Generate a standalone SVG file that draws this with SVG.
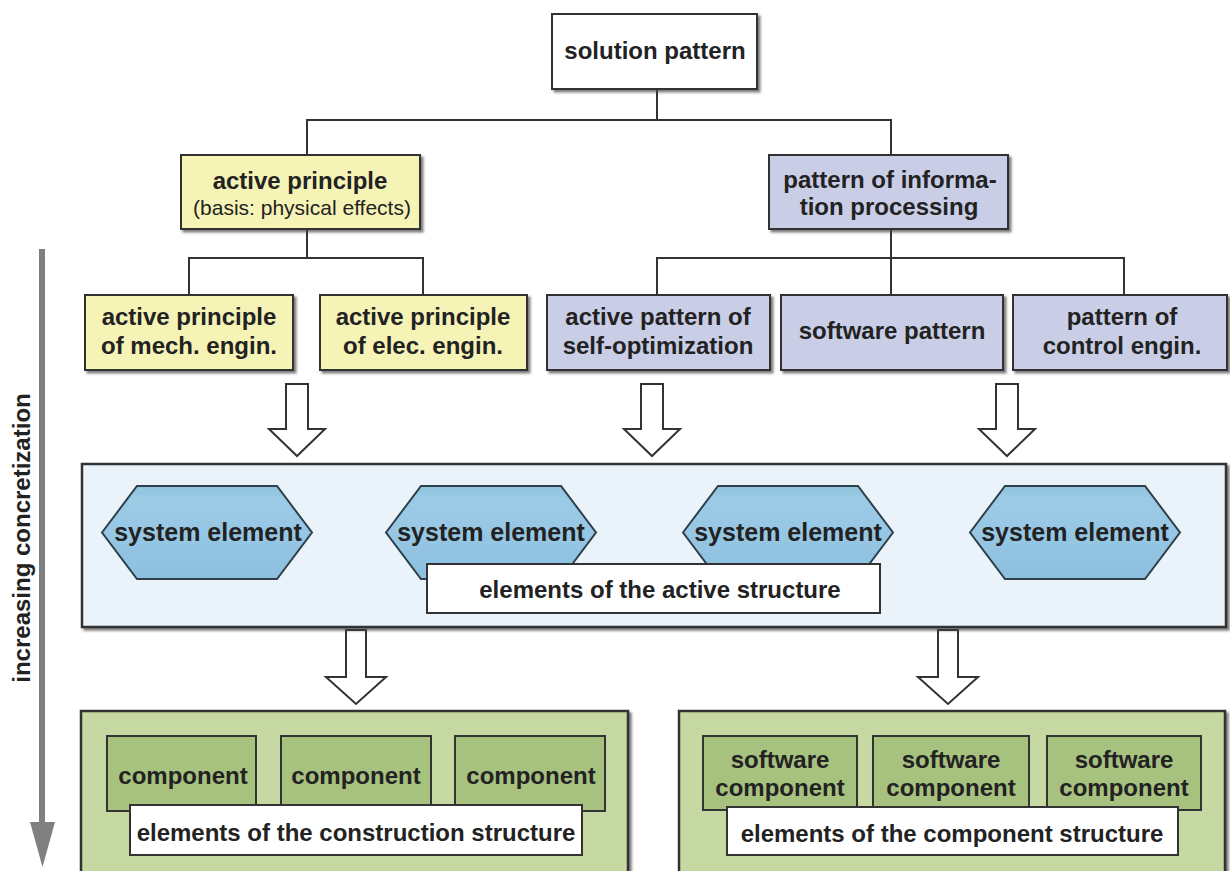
<svg xmlns="http://www.w3.org/2000/svg" width="1230" height="871" viewBox="0 0 1230 871">
<defs>
<filter id="sh" x="-5%" y="-5%" width="115%" height="120%">
<feDropShadow dx="2.5" dy="2.5" stdDeviation="1" flood-color="#444" flood-opacity="0.7"/>
</filter>
<linearGradient id="hexg" x1="0" y1="0" x2="0" y2="1">
<stop offset="0" stop-color="#8fc3dc"/>
<stop offset="0.15" stop-color="#9ccbe6"/>
<stop offset="1" stop-color="#8dc0e0"/>
</linearGradient>
</defs>
<style>
text{font-family:"Liberation Sans",Arial,Helvetica,sans-serif;font-weight:bold;font-size:24px;fill:#222;text-anchor:middle}
.sub{font-weight:normal;font-size:21px}
.box{stroke:#333;stroke-width:2;filter:url(#sh)}
.white{fill:#fff}
.yel{fill:#f6f3b6}
.blu{fill:#c9cee6}
.hex{fill:url(#hexg);stroke:#2e3f4a;stroke-width:2}
.big{fill:#eaf3fa;stroke:#333;stroke-width:2.5;filter:url(#sh)}
.grn{fill:#c6d9a3;stroke:#333;stroke-width:2.5;filter:url(#sh)}
.comp{fill:#a7c17f;stroke:#333;stroke-width:2}
.lbl{fill:#fff;stroke:#333;stroke-width:2}
.line{fill:none;stroke:#333;stroke-width:2}
.harrow{fill:#fff;stroke:#333;stroke-width:2;stroke-linejoin:miter}
</style>
<rect width="1230" height="871" fill="#fff"/>

<g id="connectors">
<polyline class="line" points="657,89 657,120"/>
<polyline class="line" points="307,155 307,120 891,120 891,155"/>
<polyline class="line" points="307,229 307,258"/>
<polyline class="line" points="189,295 189,258 423,258 423,295"/>
<polyline class="line" points="891,229 891,295"/>
<polyline class="line" points="657,295 657,258 1124,258 1124,295"/>
<path class="harrow" d="M286,384 H308 V429 H325 L297,456 L269,429 H286 Z"/>
<path class="harrow" d="M641,384 H663 V429 H680 L652,456 L624,429 H641 Z"/>
<path class="harrow" d="M996,384 H1018 V429 H1035 L1007,456 L979,429 H996 Z"/>
<path class="harrow" d="M346,630 H366 V677 H386 L356,704 L326,677 H346 Z"/>
<path class="harrow" d="M938,630 H958 V677 H978 L948,704 L918,677 H938 Z"/>
<line x1="42" y1="249" x2="42" y2="826" stroke="#808080" stroke-width="6"/>
<polygon points="30,822 55,822 42.5,867" fill="#808080"/>
</g>

<g id="axis-label">
<text x="30" y="538" transform="rotate(-90 30 538)">increasing concretization</text>
</g>

<g id="solution-pattern">
<rect class="box white" x="552" y="14" width="205" height="75"/>
<text x="655" y="59">solution pattern</text>
</g>

<g id="active-principle">
<rect class="box yel" x="181" y="155" width="239" height="74"/>
<text x="300" y="189">active principle</text>
<text class="sub" x="302" y="215">(basis: physical effects)</text>
</g>

<g id="pattern-info">
<rect class="box blu" x="769" y="155" width="239" height="74"/>
<text x="890" y="188">pattern of informa-</text>
<text x="889" y="215">tion processing</text>
</g>

<g id="ap-mech">
<rect class="box yel" x="85" y="295" width="208" height="75"/>
<text x="189" y="325">active principle</text>
<text x="189" y="354">of mech. engin.</text>
</g>

<g id="ap-elec">
<rect class="box yel" x="320" y="295" width="207" height="75"/>
<text x="423" y="325">active principle</text>
<text x="423" y="354">of elec. engin.</text>
</g>

<g id="self-opt">
<rect class="box blu" x="547" y="295" width="223" height="75"/>
<text x="658" y="325">active pattern of</text>
<text x="658" y="354">self-optimization</text>
</g>

<g id="software-pattern">
<rect class="box blu" x="781" y="295" width="222" height="75"/>
<text x="892" y="339">software pattern</text>
</g>

<g id="control-engin">
<rect class="box blu" x="1013" y="295" width="214" height="75"/>
<text x="1122" y="325">pattern of</text>
<text x="1122" y="354">control engin.</text>
</g>

<g id="active-structure">
<rect class="big" x="82" y="464" width="1144" height="163"/>
<g id="se1">
<polygon class="hex" points="102,532.5 137,486 277,486 312,532.5 277,579 137,579"/>
<text x="208" y="541" style="font-size:25px">system element</text>
</g>
<g id="se2">
<polygon class="hex" points="386,532.5 421,486 561,486 596,532.5 561,579 421,579"/>
<text x="491" y="541" style="font-size:25px">system element</text>
</g>
<g id="se3">
<polygon class="hex" points="683,532.5 718,486 858,486 893,532.5 858,579 718,579"/>
<text x="788" y="541" style="font-size:25px">system element</text>
</g>
<g id="se4">
<polygon class="hex" points="970,532.5 1005,486 1145,486 1180,532.5 1145,579 1005,579"/>
<text x="1075" y="541" style="font-size:25px">system element</text>
</g>
<g id="as-label">
<rect class="lbl" x="427" y="564" width="453" height="49"/>
<text x="660" y="598">elements of the active structure</text>
</g>
</g>

<g id="construction-structure">
<rect class="grn" x="81" y="711" width="547" height="175"/>
<g id="c1"><rect class="comp" x="107" y="736" width="149" height="75"/><text x="183" y="784">component</text></g>
<g id="c2"><rect class="comp" x="281" y="736" width="150" height="75"/><text x="356" y="784">component</text></g>
<g id="c3"><rect class="comp" x="455" y="736" width="150" height="75"/><text x="531" y="784">component</text></g>
<g id="cs-label">
<rect class="lbl" x="130" y="805" width="452" height="50"/>
<text x="356" y="841">elements of the construction structure</text>
</g>
</g>

<g id="component-structure">
<rect class="grn" x="679" y="711" width="546" height="175"/>
<g id="sc1"><rect class="comp" x="703" y="736" width="154" height="74"/><text x="780" y="768">software</text><text x="780" y="796">component</text></g>
<g id="sc2"><rect class="comp" x="873" y="736" width="156" height="74"/><text x="951" y="768">software</text><text x="951" y="796">component</text></g>
<g id="sc3"><rect class="comp" x="1047" y="736" width="154" height="74"/><text x="1124" y="768">software</text><text x="1124" y="796">component</text></g>
<g id="cps-label">
<rect class="lbl" x="727" y="807" width="451" height="48"/>
<text x="952" y="842">elements of the component structure</text>
</g>
</g>
</svg>
